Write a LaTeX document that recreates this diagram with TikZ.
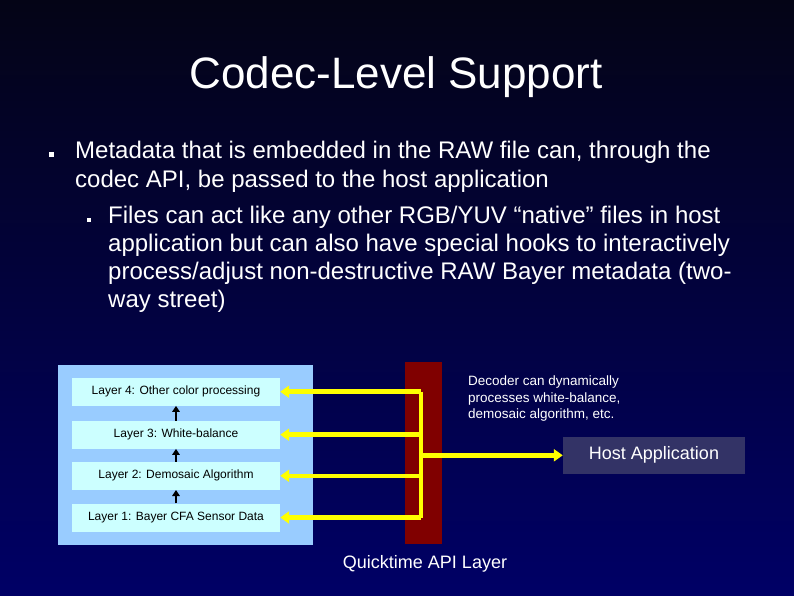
\documentclass[tikz,border=0pt]{standalone}
\usepackage{fontspec}
\setmainfont{Liberation Sans}
\usetikzlibrary{positioning,calc,arrows.meta}
\definecolor{bgtop}{RGB}{4,4,22}
\definecolor{bgbot}{RGB}{0,0,102}
\definecolor{panelblue}{RGB}{153,204,255}
\definecolor{layercyan}{RGB}{204,255,255}
\definecolor{apired}{RGB}{128,0,0}
\definecolor{hostgray}{RGB}{51,51,102}
\definecolor{sigyellow}{RGB}{255,255,0}
\newcommand{\fsz}[2]{\fontsize{#1}{#2}\selectfont}
\tikzset{
  layerbox/.style={fill=layercyan, minimum width=208, minimum height=28, inner sep=0,
    font=\fsz{12}{14}, text=black},
  sig/.style={draw=sigyellow, line width=4.5pt},
  sigarrow/.style={sig, -{Triangle[length=9pt,width=12pt]}},
  uparrow/.style={black, line width=2.6pt, -{Triangle[length=6pt,width=7.5pt]}},
  bullet/.style={fill=white, inner sep=0, minimum size=#1},
  slidetext/.style={text=white, inner sep=0, align=left, anchor=base west}
}

\begin{document}
\begin{tikzpicture}[x=1pt, y=-1pt]
  \useasboundingbox (0,0) rectangle (794,595);
  \shade[top color=bgtop, bottom color=bgbot] (0,0) rectangle (794,595);
  % ------------------------------------------------------------------ title and bullets
  % (multi-line nodes sit on the baseline of their last line)
  \node[text=white, font=\fsz{44}{50}, anchor=base] (title) at (396,88) {Codec-Level Support};
  \node[bullet=5pt] (b1) at (51.8,154.7) {};
  \node[slidetext, font=\fsz{24}{28.5}] (t1) at (75,187)
    {Metadata that is embedded in the RAW file can, through the\\codec API, be passed to the host application};
  \node[bullet=4pt] (b2) at (88.7,220.3) {};
  \node[slidetext, font=\fsz{24}{28}] (t2) at (108,307.5)
    {Files can act like any other RGB/YUV “native” files in host\\
     application but can also have special hooks to interactively\\
     process/adjust non-destructive RAW Bayer metadata (two-\\
     way street)};
  % ------------------------------------------------------------------ codec layers
  \node[fill=panelblue, minimum width=255, minimum height=180, inner sep=0] (panel) at (185.5,455) {};
  \node[layerbox] (L4) at (176,391.7) {Layer 4: Other color processing};
  \node[layerbox] (L3) at (176,434.7) {Layer 3: White-balance};
  \node[layerbox] (L2) at (176,475.8) {Layer 2: Demosaic Algorithm};
  \node[layerbox] (L1) at (176,517.5) {Layer 1: Bayer CFA Sensor Data};
  \foreach \a/\b in {L1/L2,L2/L3,L3/L4} {\draw[uparrow] (\a.north) -- (\b.south);}
  % ------------------------------------------------------------------ api layer and host
  \node[fill=apired, minimum width=37, minimum height=182, inner sep=0] (api) at (423.5,453) {};
  \node[text=white, font=\fsz{18}{20}, anchor=base] (apilabel) at (425,568) {Quicktime API Layer};
  \node[fill=hostgray, minimum width=182, minimum height=37, inner sep=0, text=white,
    font=\fsz{18}{20}] (host) at (654,455.3) {Host Application};
  \node[slidetext, font=\fsz{13.5}{16.3}] (note) at (468,418.3)
    {Decoder can dynamically\\processes white-balance,\\demosaic algorithm, etc.};
  \coordinate (bus) at (421,455);
  \draw[sig] (bus |- L4.east) -- (bus |- L1.east);
  \foreach \k in {1,...,4} {\draw[sigarrow] (bus |- L\k.east) -- (L\k.east);}
  \draw[sigarrow] (bus |- host.west) -- (host.west);
\end{tikzpicture}
\end{document}
